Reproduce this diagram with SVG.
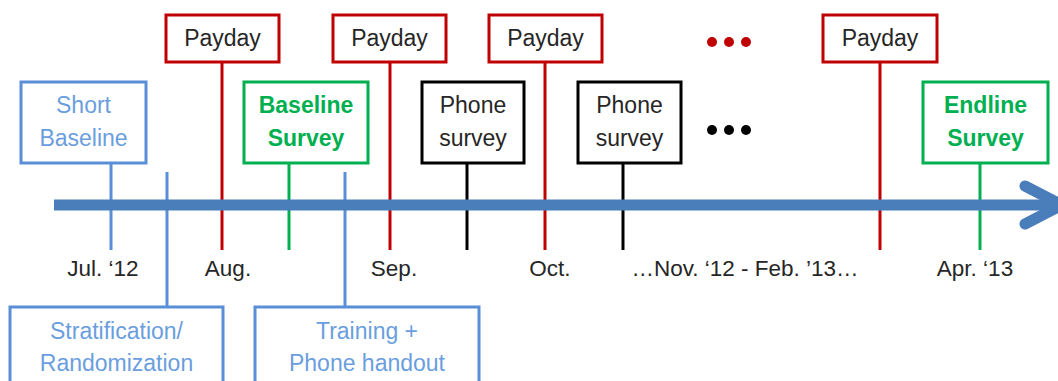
<svg xmlns="http://www.w3.org/2000/svg" width="1058" height="381" viewBox="0 0 1058 381">
<style>
text{font-family:"Liberation Sans",Arial,sans-serif;font-size:23px;text-anchor:middle}
.box{fill:#fff;stroke-width:3}
.red{stroke:#C00000}
.grn{stroke:#00B050}
.blk{stroke:#000}
.blu{stroke:#5A8ED6}
.ln{stroke-width:3;fill:none}
.t{fill:#262626}
.tb{fill:#6A9EDE}
.tg{fill:#00B050;font-weight:bold}
.lbl{fill:#262626;font-size:22.5px}
</style>
<rect width="1058" height="381" fill="#fff"/>
<g id="connectors">
<line class="ln blu" x1="111" y1="163" x2="111" y2="250"/>
<line class="ln blu" x1="167" y1="172" x2="167" y2="307"/>
<line class="ln red" x1="222" y1="62" x2="222" y2="250"/>
<line class="ln grn" x1="289" y1="163" x2="289" y2="250"/>
<line class="ln blu" x1="345" y1="172" x2="345" y2="307"/>
<line class="ln red" x1="390" y1="62" x2="390" y2="250"/>
<line class="ln blk" x1="467" y1="163" x2="467" y2="250"/>
<line class="ln red" x1="545" y1="62" x2="545" y2="250"/>
<line class="ln blk" x1="623" y1="163" x2="623" y2="250"/>
<line class="ln red" x1="880" y1="62" x2="880" y2="250"/>
<line class="ln grn" x1="980" y1="163" x2="980" y2="250"/>
</g>
<g id="axis">
<line x1="54" y1="205" x2="1055" y2="205" stroke="#4A7EBB" stroke-width="11"/>
<polyline points="1025,186 1062,205 1025,224" fill="none" stroke="#4A7EBB" stroke-width="11" stroke-linecap="round" stroke-linejoin="round"/>
</g>
<g id="short-baseline"><rect class="box blu" x="21" y="82" width="125" height="81"/><text class="tb" x="83.5" y="113">Short</text><text class="tb" x="83.5" y="146">Baseline</text></g>
<g id="stratification"><rect class="box blu" x="10" y="307" width="213" height="90"/><text class="tb" x="116.5" y="339">Stratification/</text><text class="tb" x="116.5" y="371">Randomization</text></g>
<g id="payday1"><rect class="box red" x="166" y="15" width="113" height="47"/><text class="t" x="222.5" y="46">Payday</text></g>
<g id="baseline-survey"><rect class="box grn" x="244" y="82" width="124" height="81"/><text class="tg" x="306" y="113">Baseline</text><text class="tg" x="306" y="146">Survey</text></g>
<g id="training"><rect class="box blu" x="255" y="307" width="224" height="90"/><text class="tb" x="367" y="339">Training +</text><text class="tb" x="367" y="371">Phone handout</text></g>
<g id="payday2"><rect class="box red" x="333" y="15" width="113" height="47"/><text class="t" x="389.5" y="46">Payday</text></g>
<g id="phone1"><rect class="box blk" x="422" y="82" width="102" height="81"/><text class="t" x="473" y="113">Phone</text><text class="t" x="473" y="146">survey</text></g>
<g id="payday3"><rect class="box red" x="489" y="15" width="113" height="47"/><text class="t" x="545.5" y="46">Payday</text></g>
<g id="phone2"><rect class="box blk" x="578" y="82" width="103" height="81"/><text class="t" x="629.5" y="113">Phone</text><text class="t" x="629.5" y="146">survey</text></g>
<g id="red-dots" fill="#C00000"><circle cx="712" cy="42" r="5"/><circle cx="729" cy="42" r="5"/><circle cx="746" cy="42" r="5"/></g>
<g id="black-dots" fill="#000"><circle cx="712" cy="130" r="5"/><circle cx="729" cy="130" r="5"/><circle cx="746" cy="130" r="5"/></g>
<g id="payday4"><rect class="box red" x="823" y="15" width="114" height="47"/><text class="t" x="880" y="46">Payday</text></g>
<g id="endline-survey"><rect class="box grn" x="923" y="82" width="125" height="81"/><text class="tg" x="985.5" y="113">Endline</text><text class="tg" x="985.5" y="146">Survey</text></g>
<g id="labels">
<text class="lbl" x="103" y="276">Jul. ‘12</text>
<text class="lbl" x="228" y="276">Aug.</text>
<text class="lbl" x="394" y="276">Sep.</text>
<text class="lbl" x="550" y="276">Oct.</text>
<text class="lbl" x="745" y="276">…Nov. ‘12 - Feb. ’13…</text>
<text class="lbl" x="975" y="276">Apr. ‘13</text>
</g>
</svg>
